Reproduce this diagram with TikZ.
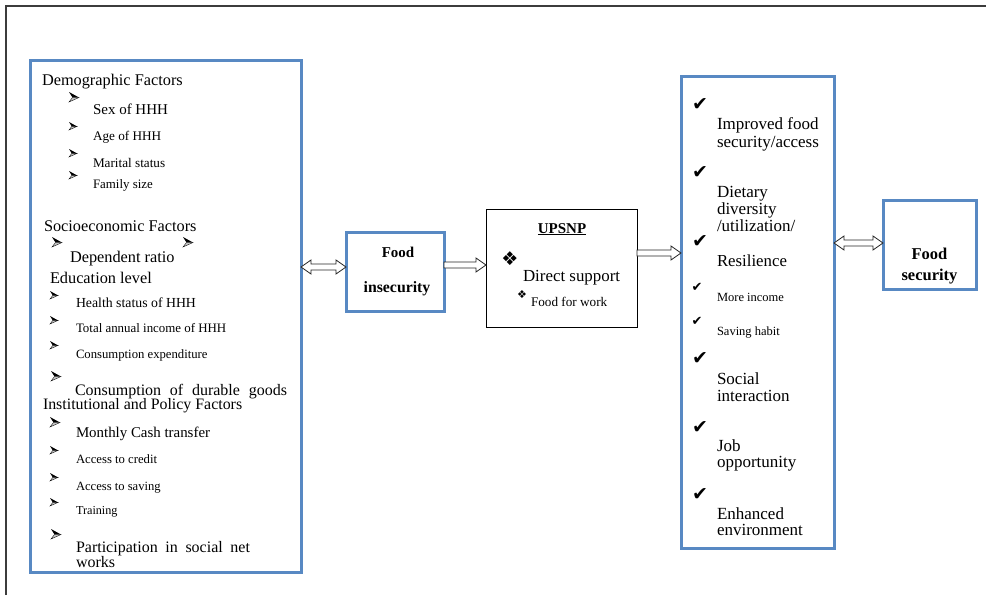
\documentclass[tikz,border=0pt]{standalone}
\usepackage{fontspec}
\setmainfont{Liberation Serif}
\newfontfamily\dvs{DejaVu Sans}
\usetikzlibrary{calc}
\newcommand\fsz[1]{\fontsize{#1}{#1}\selectfont}
\definecolor{boxblue}{RGB}{88,137,195}
\definecolor{framegray}{RGB}{60,60,60}
\tikzset{
  bluebox/.style={draw=boxblue, line width=3pt, inner sep=0pt, outer sep=0pt},
  blackbox/.style={draw=black, line width=0.8pt, inner sep=0pt, outer sep=0pt},
  txt/.style={anchor=base west, inner sep=0pt, outer sep=0pt},
  ctxt/.style={anchor=base, inner sep=0pt, outer sep=0pt},
  bul/.style={inner sep=0pt, outer sep=0pt, font=\dvs\fsz{#1}},
  bul/.default=14,
  chk/.style={inner sep=0pt, outer sep=0pt, font=\dvs\fsz{#1}},
  chk/.default=19,
  arrowline/.style={draw=black!85, line width=0.8pt, fill=white, line join=miter},
  abul/.pic={
    \fill[black] (-0.5,-0.5) -- (0.5,0.05) -- (-0.15,0.05) -- cycle;
    \filldraw[fill=gray!45, draw=black, line width=0.35pt, line join=miter] (-0.5,0.5) -- (0.5,0.05) -- (-0.15,0.05) -- cycle;
  }
}
% hollow block arrows between two named coordinates (left to right)
\newcommand\harrow[2]{%
  \draw[arrowline] ($(#1)+(0,-3)$) -- ($(#2)+(-10,-3)$) -- ($(#2)+(-10,-7)$) -- (#2)
    -- ($(#2)+(-10,7)$) -- ($(#2)+(-10,3)$) -- ($(#1)+(0,3)$) -- cycle;}
\newcommand\hdarrow[2]{%
  \draw[arrowline] (#1) -- ($(#1)+(10,-7)$) -- ($(#1)+(10,-3)$) -- ($(#2)+(-10,-3)$) -- ($(#2)+(-10,-7)$) -- (#2)
    -- ($(#2)+(-10,7)$) -- ($(#2)+(-10,3)$) -- ($(#1)+(10,3)$) -- ($(#1)+(10,7)$) -- cycle;}
\begin{document}
\begin{tikzpicture}[x=1pt,y=-1pt]
\useasboundingbox (0,0) rectangle (986,595);
% outer frame (top and left only)
\draw[framegray, line width=1.6pt] (6,595) -- (6,6) -- (986,6);

% boxes
\node[bluebox, minimum width=271pt, minimum height=512pt] (L) at (165.5,316) {};
\node[bluebox, minimum width=98pt, minimum height=79pt] (FI) at (395,271.5) {};
\node[blackbox, minimum width=151pt, minimum height=118pt] (U) at (561.5,268) {};
\node[bluebox, minimum width=153pt, minimum height=472pt] (R) at (757.5,312) {};
\node[bluebox, minimum width=93pt, minimum height=89pt] (FS) at (929.5,244.5) {};

% left box bullets
\pic[scale=10] at (74,97) {abul};
\pic[scale=8] at (73,126) {abul};
\pic[scale=8] at (73,153) {abul};
\pic[scale=8] at (73,175) {abul};
\pic[scale=10] at (57,242) {abul};
\pic[scale=10] at (188,242) {abul};
\pic[scale=8] at (54,295) {abul};
\pic[scale=8] at (54,320) {abul};
\pic[scale=8] at (54,345) {abul};
\pic[scale=10] at (56,376) {abul};
\pic[scale=10] at (55,422) {abul};
\pic[scale=8] at (54,450) {abul};
\pic[scale=8] at (54,477) {abul};
\pic[scale=8] at (54,502) {abul};
\pic[scale=10] at (56,534) {abul};

% left box text
\node[txt, font=\fsz{16.3}] (l1) at (42,85) {Demographic Factors};
\node[txt, font=\fsz{15}] (l2) at (93,114) {Sex of HHH};
\node[txt, font=\fsz{13.2}] (l3) at (93,140) {Age of HHH};
\node[txt, font=\fsz{13.2}] (l4) at (93,167) {Marital status};
\node[txt, font=\fsz{12.9}] (l5) at (93,188) {Family size};
\node[txt, font=\fsz{16.3}] (l6) at (44,231) {Socioeconomic Factors};
\node[txt, font=\fsz{16.3}] (l7) at (70,262) {Dependent ratio};
\node[txt, font=\fsz{16.3}] (l8) at (50,283) {Education level};
\node[txt, font=\fsz{13.8}] (l9) at (76,307) {Health status of HHH};
\node[txt, font=\fsz{12.9}] (l10) at (76,332) {Total annual income of HHH};
\node[txt, font=\fsz{12.7}] (l11) at (76,358) {Consumption expenditure};
\node[txt, font=\fsz{16}] (l12) at (75,395) {\makebox[212pt][s]{Consumption of durable goods}};
\node[txt, font=\fsz{15.9}] (l13) at (43,409) {Institutional and Policy Factors};
\node[txt, font=\fsz{14.9}] (l14) at (76,437) {Monthly Cash transfer};
\node[txt, font=\fsz{12.7}] (l15) at (76,463) {Access to credit};
\node[txt, font=\fsz{12.6}] (l16) at (76,490) {Access to saving};
\node[txt, font=\fsz{12.2}] (l17) at (76,514) {Training};
\node[txt, font=\fsz{16}] (l18) at (76,552) {\makebox[174pt][s]{Participation in social net}};
\node[txt, font=\fsz{16}] (l19) at (76,567) {works};

% food insecurity
\node[ctxt, font=\bfseries\fsz{15}] (fi1) at (398,257) {Food};
\node[ctxt, font=\bfseries\fsz{15.8}] (fi2) at (397,292) {insecurity};

% UPSNP
\node[ctxt, font=\bfseries\fsz{15}] (u1) at (562,233) {\underline{UPSNP}};
\node[bul=19] (ub1) at (510,259) {❖};
\node[txt, font=\fsz{16.9}] (u2) at (523,281) {Direct support};
\node[bul=11] (ub2) at (522,295) {❖};
\node[txt, font=\fsz{13.2}] (u3) at (531,306) {Food for work};

% right box
\node[chk] (c1) at (700,105) {✔};
\node[txt, font=\fsz{17}] (r1) at (717,129) {Improved food};
\node[txt, font=\fsz{17}] (r2) at (717,147) {security/access};
\node[chk] (c2) at (700,173) {✔};
\node[txt, font=\fsz{17}] (r3) at (717,197) {Dietary};
\node[txt, font=\fsz{17}] (r4) at (717,214) {diversity};
\node[txt, font=\fsz{17}] (r5) at (717,231) {/utilization/};
\node[chk] (c3) at (700,242) {✔};
\node[txt, font=\fsz{16.8}] (r6) at (717,266) {Resilience};
\node[chk=13] (c4) at (697,287) {✔};
\node[txt, font=\fsz{12.5}] (r7) at (717,301) {More income};
\node[chk=13] (c5) at (697,321) {✔};
\node[txt, font=\fsz{12.5}] (r8) at (717,335) {Saving habit};
\node[chk] (c6) at (700,359) {✔};
\node[txt, font=\fsz{17}] (r9) at (717,384) {Social};
\node[txt, font=\fsz{17}] (r10) at (717,401) {interaction};
\node[chk] (c7) at (700,428) {✔};
\node[txt, font=\fsz{17}] (r11) at (717,451) {Job};
\node[txt, font=\fsz{17}] (r12) at (717,467) {opportunity};
\node[chk] (c8) at (700,494) {✔};
\node[txt, font=\fsz{17}] (r13) at (717,519) {Enhanced};
\node[txt, font=\fsz{17}] (r14) at (717,535) {environment};

% food security
\node[ctxt, font=\bfseries\fsz{16.5}] (fs1) at (929.5,259) {Food};
\node[ctxt, font=\bfseries\fsz{16.5}] (fs2) at (929.5,280) {security};

% connector end points
\coordinate (a1s) at ([yshift=4.5pt]FI.west -| L.east);
\coordinate (a1e) at ([yshift=4.5pt]FI.west);
\coordinate (a2s) at ([yshift=3pt]U.west -| FI.east);
\coordinate (a2e) at ([yshift=3pt]U.west);
\coordinate (a3s) at ([yshift=15pt]U.east);
\coordinate (a3e) at ([yshift=15pt]U.east -| R.west);
\coordinate (a4s) at ([yshift=1.5pt]FS.west -| R.east);
\coordinate (a4e) at ([yshift=1.5pt]FS.west);
% connectors
\hdarrow{a1s}{a1e}
\harrow{a2s}{a2e}
\harrow{a3s}{a3e}
\hdarrow{a4s}{a4e}
\end{tikzpicture}
\end{document}
